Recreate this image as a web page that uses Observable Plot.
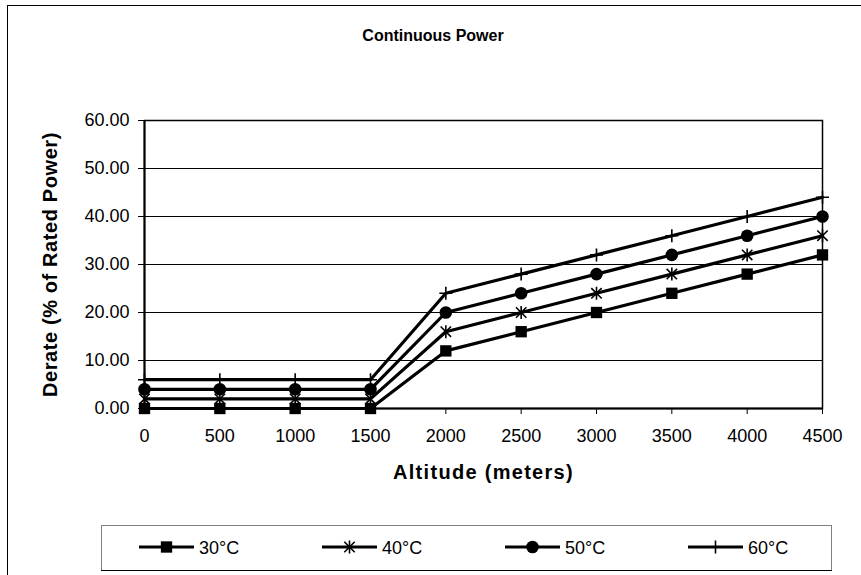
<!DOCTYPE html>
<html><head><meta charset="utf-8">
<script src="https://cdn.jsdelivr.net/npm/d3@7"></script>
<script src="https://cdn.jsdelivr.net/npm/@observablehq/plot@0.6"></script>
<style>
body{margin:0;background:#fff;font-family:"Liberation Sans",Arial,sans-serif;color:#000;}
#chart{position:relative;width:861px;height:575px;overflow:hidden;}
#border{position:absolute;left:7px;top:5px;width:900px;height:600px;border-left:1px solid #000;border-top:1px solid #000;}
#title{position:absolute;left:0;width:866px;top:27px;text-align:center;font-weight:bold;font-size:16px;}
#plot{position:absolute;left:0;top:60px;}
#legend{position:absolute;left:0;top:500px;}
</style></head><body>
<div id="chart"><div id="border"></div><div id="title"></div><div id="plot"></div><svg id="legend" width="861" height="75"></svg></div>
<script>
// ---- data ----
const altitudes = [0, 500, 1000, 1500, 2000, 2500, 3000, 3500, 4000, 4500];
const seriesNames = ["30°C", "40°C", "50°C", "60°C"];
const derate30 = [0, 0, 0, 0, 12, 16, 20, 24, 28, 32];
const derate40 = [2, 2, 2, 2, 16, 20, 24, 28, 32, 36];
const derate50 = [4, 4, 4, 4, 20, 24, 28, 32, 36, 40];
const derate60 = [6, 6, 6, 6, 24, 28, 32, 36, 40, 44];
const yTicks = [0, 10, 20, 30, 40, 50, 60];
const xTicks = [0, 500, 1000, 1500, 2000, 2500, 3000, 3500, 4000, 4500];
const gridValues = [10, 20, 30, 40, 50];
const titleText = "Continuous Power";
const xLabel = "Altitude (meters)";
const yLabel = "Derate (% of Rated Power)";

const values = [derate30, derate40, derate50, derate60];
const data = seriesNames.flatMap((s, i) => altitudes.map((a, j) => ({series: s, altitude: a, derate: values[i][j]})));

// custom marker symbols
const asteriskSym = {draw(ctx, size) {
  const r = Math.sqrt(size / Math.PI), d = r * 0.8;
  ctx.moveTo(0, -r); ctx.lineTo(0, r);
  ctx.moveTo(-d, -d); ctx.lineTo(d, d);
  ctx.moveTo(-d, d); ctx.lineTo(d, -d);
}};
const plusSym = {draw(ctx, size) {
  const r = Math.sqrt(size / Math.PI);
  ctx.moveTo(-r, 0); ctx.lineTo(r, 0);
  ctx.moveTo(0, -r); ctx.lineTo(0, r);
}};
const markerStyles = [
  {symbol: "square", r: 6.4, fill: "#000", stroke: "none", strokeWidth: 0},
  {symbol: asteriskSym, r: 6.5, fill: "none", stroke: "#000", strokeWidth: 1.6},
  {symbol: "circle", r: 6.3, fill: "#000", stroke: "none", strokeWidth: 0},
  {symbol: plusSym, r: 6.5, fill: "none", stroke: "#000", strokeWidth: 1.6}
];

document.getElementById("title").textContent = titleText;

const marks = [
  Plot.ruleY(gridValues, {stroke: "#000", strokeWidth: 1}),
  Plot.frame({stroke: "#000", strokeWidth: 1.5}),
  Plot.ruleX([0], {stroke: "#000", strokeWidth: 2}),
  Plot.ruleY([0], {stroke: "#000", strokeWidth: 2}),
  Plot.line(data, {x: "altitude", y: "derate", z: "series", stroke: "#000", strokeWidth: 3.2})
];
seriesNames.forEach((s, i) => {
  const m = markerStyles[i];
  marks.push(Plot.dot(data.filter(d => d.series === s), {x: "altitude", y: "derate", symbol: m.symbol, r: m.r, fill: m.fill, stroke: m.stroke, strokeWidth: m.strokeWidth}));
});
marks.push(Plot.text([yLabel], {text: d => d, frameAnchor: "left", textAnchor: "middle", dx: -94, rotate: -90, fontWeight: "bold", fontSize: 20}));
marks.push(Plot.text([xLabel], {text: d => d, frameAnchor: "bottom", textAnchor: "middle", dy: 70, fontWeight: "bold", fontSize: 20}));

const chart = Plot.plot({
  width: 861, height: 440,
  marginLeft: 144, marginRight: 39, marginTop: 60, marginBottom: 92,
  style: {fontFamily: "'Liberation Sans', Arial, sans-serif", fontSize: "18px", color: "#000", background: "transparent"},
  x: {type: "linear", domain: [0, 4500], ticks: xTicks, tickFormat: d => String(d), tickSize: 6, tickPadding: 15, label: null},
  y: {type: "linear", domain: [0, 60], ticks: yTicks, tickFormat: d => d.toFixed(2), tickSize: 6, tickPadding: 9, label: null},
  marks
});
document.getElementById("plot").appendChild(chart);
// letter spacing of axis titles, as in the reference
d3.select(chart).selectAll("text").each(function() {
  if (this.textContent === yLabel) d3.select(this).style("letter-spacing", "0.6px");
  if (this.textContent === xLabel) d3.select(this).style("letter-spacing", "1.3px");
});

// legend
const lg = d3.select("#legend");
lg.append("rect").attr("x", 101.5).attr("y", 25.5).attr("width", 730).attr("height", 45)
  .attr("fill", "none").attr("stroke", "#808080");
lg.append("line").attr("x1", 101).attr("x2", 832).attr("y1", 70.5).attr("y2", 70.5).attr("stroke", "#000");
seriesNames.forEach((s, i) => {
  const x0 = 139 + 183 * i, cy = 47;
  const m = markerStyles[i];
  const g = lg.append("g");
  g.append("line").attr("x1", x0).attr("x2", x0 + 55).attr("y1", cy).attr("y2", cy).attr("stroke", "#000").attr("stroke-width", 3);
  g.append("path").attr("transform", `translate(${x0 + 27.5},${cy})`)
    .attr("d", d3.symbol().type(typeof m.symbol === "string" ? (m.symbol === "square" ? d3.symbolSquare : d3.symbolCircle) : m.symbol).size(Math.PI * m.r * m.r)())
    .attr("fill", m.fill).attr("stroke", m.stroke).attr("stroke-width", m.strokeWidth);
  g.append("text").attr("x", x0 + 60).attr("y", cy + 6.5).attr("font-size", 18).attr("font-family", "'Liberation Sans', Arial, sans-serif").text(s);
});
</script>
</body></html>
